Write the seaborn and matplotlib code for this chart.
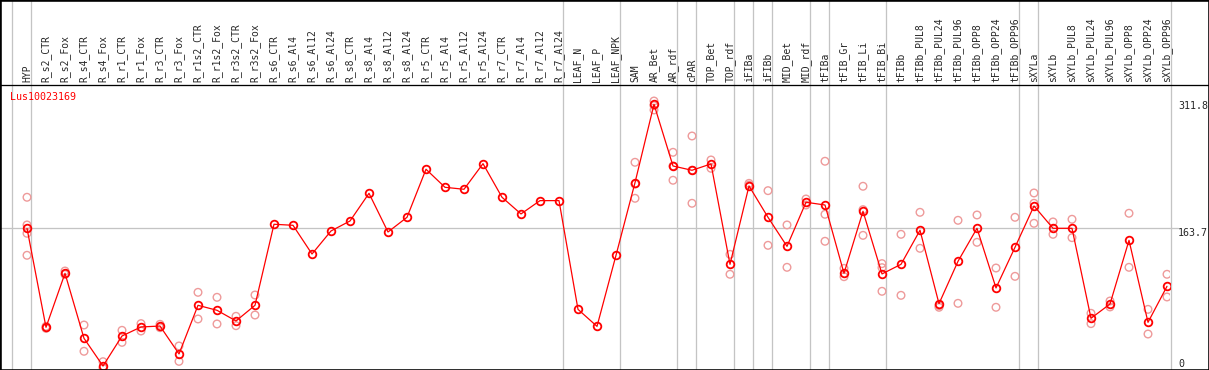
import numpy as np
import pandas as pd
import matplotlib
matplotlib.use("Agg")
import matplotlib.pyplot as plt
from matplotlib.lines import Line2D
import seaborn as sns

gene_id = "Lus10023169"

samples = [
    "HYP", "R_s2_CTR", "R_s2_Fox", "R_s4_CTR", "R_s4_Fox", "R_r1_CTR", "R_r1_Fox",
    "R_r3_CTR", "R_r3_Fox", "R_r1s2_CTR", "R_r1s2_Fox", "R_r3s2_CTR", "R_r3s2_Fox",
    "R_s6_CTR", "R_s6_Al4", "R_s6_Al12", "R_s6_Al24", "R_s8_CTR", "R_s8_Al4",
    "R_s8_Al12", "R_s8_Al24", "R_r5_CTR", "R_r5_Al4", "R_r5_Al12", "R_r5_Al24",
    "R_r7_CTR", "R_r7_Al4", "R_r7_Al12", "R_r7_Al24", "LEAF_N", "LEAF_P", "LEAF_NPK",
    "SAM", "AR_Bet", "AR_rdf", "cPAR", "TOP_Bet", "TOP_rdf", "iFIBa", "iFIBb",
    "MID_Bet", "MID_rdf", "tFIBa", "tFIB_Gr", "tFIB_Li", "tFIB_Bi", "tFIBb",
    "tFIBb_PUL8", "tFIBb_PUL24", "tFIBb_PUL96", "tFIBb_OPP8", "tFIBb_OPP24",
    "tFIBb_OPP96", "sXYLa", "sXYLb", "sXYLb_PUL8", "sXYLb_PUL24", "sXYLb_PUL96",
    "sXYLb_OPP8", "sXYLb_OPP24", "sXYLb_OPP96",
]

mean_values = [
    163.7, 48.5, 111.3, 35.7, 3.5, 38.4, 48.9, 50.0, 17.5, 74.1, 68.3, 55.9, 74.1,
    168.4, 167.2, 133.8, 160.6, 172.2, 204.4, 159.4, 176.5, 232.4, 211.4, 209.1,
    238.9, 199.8, 180.4, 195.9, 195.9, 69.4, 49.6, 132.3,
    216.8, 308.0, 236.2, 231.2, 238.6, 121.8, 213.0, 176.5, 142.7, 194.0,
    190.8, 111.3, 183.5, 110.6, 121.8, 161.4, 76.0, 125.3, 163.7, 94.3, 141.6,
    189.7, 163.7, 163.7, 59.0, 75.6, 149.7, 54.3, 96.2,
]

replicates = [
    [199.8, 167.6, 157.9, 132.3], [49.6, 47.3], [114.0, 110.0], [51.2, 20.6],
    [8.5, 1.0], [45.0, 31.0], [52.8, 44.2], [52.0, 48.1], [26.8, 8.9],
    [89.2, 58.2], [83.4, 52.4], [61.3, 50.4], [86.1, 62.8],
    [], [], [], [], [], [], [], [], [], [], [], [], [], [], [], [], [], [], [],
    [240.5, 215.2, 198.6], [311.8, 306.4, 301.4], [252.1, 236.2, 219.6],
    [271.1, 231.2, 192.8], [243.2, 233.5], [133.4, 110.2], [216.0, 214.0],
    [207.5, 143.9], [167.6, 118.3], [197.8, 190.8], [241.7, 180.0, 148.6],
    [117.1, 107.4], [212.6, 185.4, 155.5], [122.6, 117.9, 90.4], [156.7, 85.7],
    [182.3, 140.4], [73.7, 71.8], [173.0, 76.4], [179.2, 147.4], [117.5, 71.8],
    [176.5, 107.8], [204.8, 192.8, 169.5], [171.1, 156.7], [174.2, 152.8],
    [64.8, 52.8], [79.1, 72.2], [181.2, 118.3], [69.4, 40.7], [110.2, 83.8],
]

# number of samples in each tissue group (separators drawn between them)
group_sizes = [1, 28, 3, 3, 1, 2, 1, 1, 2, 1, 3, 7, 1, 7]
y_ticks = [0, 163.7, 311.8]

sns.set_style("white")
plt.rcParams["font.family"] = ["DejaVu Sans Mono"]

pos = np.arange(len(samples))
df_mean = pd.DataFrame({"pos": pos, "value": mean_values})
df_rep = pd.DataFrame(
    [(i, v) for i, reps in enumerate(replicates) for v in reps],
    columns=["pos", "value"],
)

W, H = 1209, 370
fig = plt.figure(figsize=(W / 100, H / 100), dpi=100)
fig.patch.set_facecolor("white")
ax = fig.add_axes([0, 1 / H, 1170 / W, 284 / H])
ax.patch.set_alpha(0)
for s in ax.spines.values():
    s.set_visible(False)

px = 0.72  # one pixel in points
grey = "#c4c4c4"

seps = np.cumsum([0] + group_sizes) - 1 + 0.21
for b in seps:
    ax.axvline(b, ymin=0, ymax=369 / 284, color=grey, lw=px * 1.3,
               clip_on=False, zorder=0)
ax.axhline(163.7, xmin=0, xmax=1178 / 1170, color=grey, lw=px * 1.3,
           clip_on=False, zorder=0)

sns.scatterplot(data=df_rep, x="pos", y="value", ax=ax, marker="o", s=30,
                facecolors="none", edgecolor="#ee9a9a", linewidth=1.0,
                zorder=2, legend=False)
sns.lineplot(data=df_mean, x="pos", y="value", ax=ax, color="red", lw=0.9,
             marker="o", markersize=5.5, markerfacecolor="none",
             markeredgecolor="red", markeredgewidth=1.3, estimator=None,
             zorder=3)

ax.set_xlim((0 - 27) / 19, (1170 - 27) / 19)
ax.set_ylim(0, 284 / 0.8595)

ax.set_xticks(pos)
ax.set_xticklabels(samples, rotation=90, fontsize=7)
ax.xaxis.set_ticks_position("top")
ax.tick_params(axis="x", length=0, pad=2.2)

ax.yaxis.set_ticks_position("right")
ax.set_yticks(y_ticks)
ax.set_yticklabels([f"{v:g}" for v in y_ticks], fontsize=7.2)
ax.tick_params(axis="y", length=0, pad=5.8)
for lab, va in zip(ax.get_yticklabels(), ["bottom", "top", "top"]):
    lab.set_va(va)
ax.set_xlabel("")
ax.set_ylabel("")

ax.text(10 / 1170, 1 - 7 / 284, gene_id, transform=ax.transAxes, color="red",
        fontsize=7.2, ha="left", va="top")

# outer frame and header rule
fig.add_artist(Line2D([0, 1], [(H - 85) / H] * 2, color="black", lw=px * 1.3))
fig.add_artist(plt.Rectangle((0, 0), 1, 1, fill=False, edgecolor="black",
                             lw=px * 2.6, transform=fig.transFigure))

fig.savefig("out.png", dpi=100)
